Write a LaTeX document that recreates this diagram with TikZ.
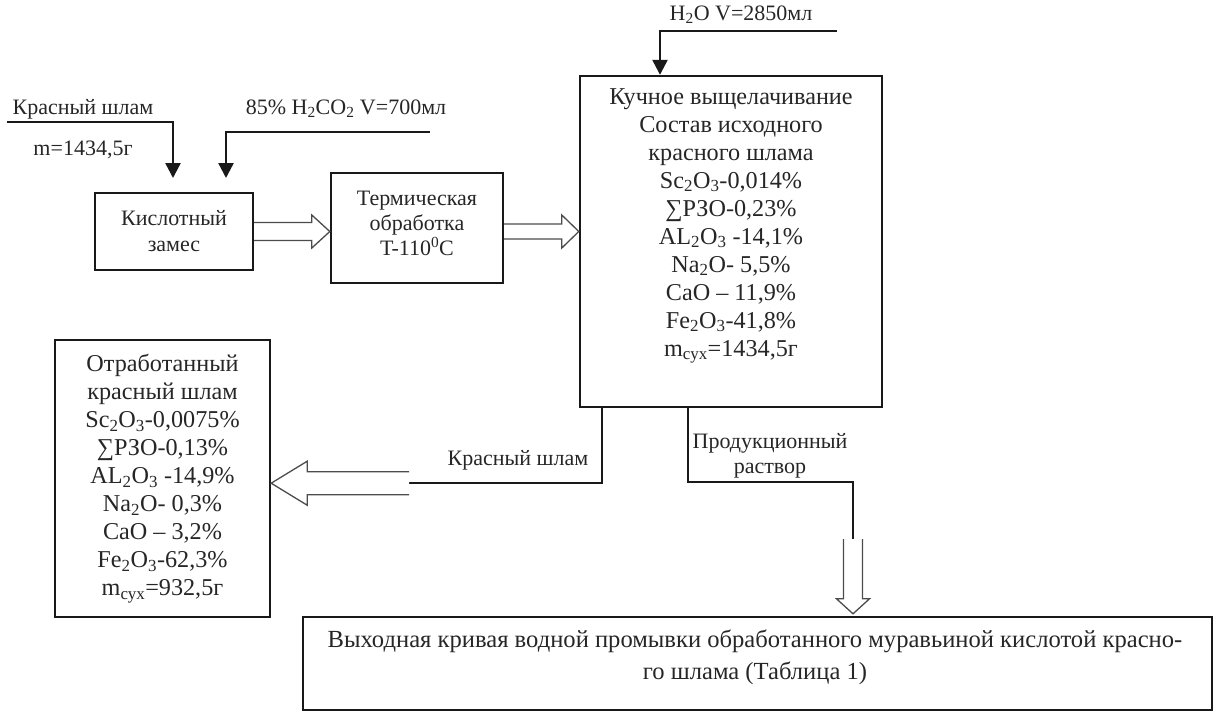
\documentclass[tikz,border=0pt]{standalone}
\usepackage{fontspec}
\setmainfont{Liberation Serif}
\usetikzlibrary{arrows.meta,calc}
\begin{document}
\begin{tikzpicture}[x=1pt,y=-1pt,
  box/.style={draw=black!90, line width=2.4pt, inner sep=0pt},
  txt/.style={font=\fontsize{22}{28}\selectfont, text=black!85, align=center, inner sep=0pt},
  bigtxt/.style={txt, font=\fontsize{24.2}{28}\selectfont},
  feed/.style={draw=black!90, line width=2.4pt, -{Triangle[width=15pt,length=15pt]}},
  conn/.style={draw=black!90, line width=2.4pt},
  hollow/.style={draw=black!70, line width=1.3pt, fill=white, line join=miter}]
\useasboundingbox (0,0) rectangle (1215,713);

% boxes
\node[box, txt, font=\fontsize{22}{26}\selectfont, minimum width=158pt, minimum height=77pt] (kz) at (174,231.5) {Кислотный\\замес};
\node[box, minimum width=172pt, minimum height=110pt] (term) at (417,228) {};
\node[txt, font=\fontsize{22}{25}\selectfont] (termt) at (417,223) {Термическая\\обработка\\T-110\textsuperscript{0}C};
\node[box, minimum width=302pt, minimum height=331pt] (heap) at (731,241.5) {};
\node[bigtxt] (heapt) at (731,226) {Кучное выщелачивание\\Состав исходного\\красного шлама\\Sc\textsubscript{2}O\textsubscript{3}-0,014\%\\∑РЗО-0,23\%\\AL\textsubscript{2}O\textsubscript{3} -14,1\%\\Na\textsubscript{2}O- 5,5\%\\CaO – 11,9\%\\Fe\textsubscript{2}O\textsubscript{3}-41,8\%\\m\textsubscript{сух}=1434,5г};
\node[box, bigtxt, minimum width=215pt, minimum height=277pt] (spent) at (162.5,478.5) {Отработанный\\красный шлам\\Sc\textsubscript{2}O\textsubscript{3}-0,0075\%\\∑РЗО-0,13\%\\AL\textsubscript{2}O\textsubscript{3} -14,9\%\\Na\textsubscript{2}O- 0,3\%\\CaO – 3,2\%\\Fe\textsubscript{2}O\textsubscript{3}-62,3\%\\m\textsubscript{сух}=932,5г};
\node[box, minimum width=909pt, minimum height=93pt] (out) at (757.5,663.5) {};
\node[txt, font=\fontsize{24.6}{32}\selectfont] (outt) at (755,657) {Выходная кривая водной промывки обработанного муравьиной кислотой красно-\\го шлама (Таблица 1)};

% labels
\node[txt] (l1) at (83,109) {Красный шлам};
\node[txt] (l2) at (83,150) {m=1434,5г};
\node[txt] (l3) at (346,109) {85\% H\textsubscript{2}CO\textsubscript{2} V=700мл};
\node[txt] (l4) at (741,15) {H\textsubscript{2}O V=2850мл};
\node[txt] (l5) at (518,460) {Красный шлам};
\node[txt, font=\fontsize{22}{25}\selectfont] (l6) at (770,455.5) {Продукционный\\раствор};

% feed lines
\coordinate (f1s) at (7,122);
\coordinate (f1b) at (173,122);
\coordinate (f1e) at (173,178);
\draw[feed] (f1s) -- (f1b) -- (f1e);
\coordinate (f2s) at (430,132);
\coordinate (f2b) at (226,132);
\coordinate (f2e) at (226,178);
\draw[feed] (f2s) -- (f2b) -- (f2e);
\coordinate (f3s) at (837,31);
\coordinate (f3b) at (660,31);
\draw[feed] (f3s) -- (f3b) -- (f3b |- heap.north);

% hollow arrow kz -> term
\coordinate (a1) at (kz.east);
\coordinate (t1) at (term.west |- kz.east);
\draw[hollow] ($(a1)+(0,-9)$) -- ($(t1)+(-18,-9)$) -- ($(t1)+(-18,-16.5)$) -- (t1)
  -- ($(t1)+(-18,16.5)$) -- ($(t1)+(-18,9)$) -- ($(a1)+(0,9)$);

% hollow arrow term -> heap
\coordinate (a2) at ($(term.east)+(0,3.5)$);
\coordinate (t2) at (heap.west |- a2);
\draw[hollow] ($(a2)+(0,-7.5)$) -- ($(t2)+(-17,-7.5)$) -- ($(t2)+(-17,-16.5)$) -- (t2)
  -- ($(t2)+(-17,16.5)$) -- ($(t2)+(-17,7.5)$) -- ($(a2)+(0,7.5)$);

% red mud out of heap -> spent
\coordinate (r0) at ($(heap.south west)+(23,0)$);
\coordinate (r1) at ($(r0)+(0,75)$);
\coordinate (r2) at (409,0 |- r1);
\draw[conn] (r0) -- (r1) -- (r2);
\coordinate (t3) at (spent.east |- r2);
\draw[hollow] ($(r2)+(0,-11.5)$) -- ($(t3)+(36,-11.5)$) -- ($(t3)+(36,-22)$) -- (t3)
  -- ($(t3)+(36,22)$) -- ($(t3)+(36,11.5)$) -- ($(r2)+(0,11.5)$);

% product solution -> out
\coordinate (p0) at ($(heap.south west)+(109,0)$);
\coordinate (p1) at ($(p0)+(0,74)$);
\coordinate (p2) at (853,0 |- p1);
\coordinate (p3) at (853,539);
\draw[conn] (p0) -- (p1) -- (p2) -- (p3);
\coordinate (t4) at ($(out.north -| p3)+(0,-2)$);
\draw[hollow] ($(p3)+(-9.5,0)$) -- ($(t4)+(-9.5,-15)$) -- ($(t4)+(-16.5,-15)$) -- (t4)
  -- ($(t4)+(16.5,-15)$) -- ($(t4)+(9.5,-15)$) -- ($(p3)+(9.5,0)$);
\end{tikzpicture}
\end{document}
